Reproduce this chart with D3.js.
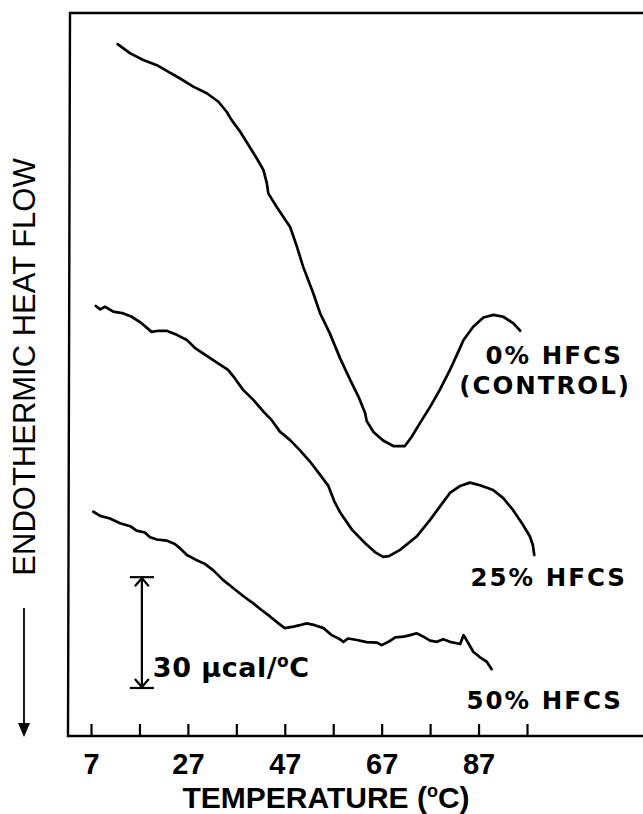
<!DOCTYPE html>
<html>
<head>
<meta charset="utf-8">
<script src="https://cdn.jsdelivr.net/npm/d3@7"></script>
<style>
  body { margin: 0; background: #fff; }
  svg { display: block; }
  .curve { fill: none; stroke: #000; stroke-width: 2.7; stroke-linejoin: round; stroke-linecap: round; }
  .frame { fill: none; stroke: #000; stroke-width: 2.4; }
  .axis text { font-family: "Liberation Sans", Arial, sans-serif; font-weight: bold; font-size: 29px; fill: #000; }
  .axis line { stroke: #000; stroke-width: 2.2; }
  .lbl { font-family: "DejaVu Sans", sans-serif; font-weight: bold; font-size: 24.5px; letter-spacing: 2px; fill: #000; }
</style>
</head>
<body>
<svg id="chart" width="643" height="814"></svg>
<script>
// temperature ticks (°C)
const tickTemps = [7, 17, 27, 37, 47, 57, 67, 77, 87, 97];
const labelTemps = [7, 27, 47, 67, 87];

// [temperature °C, heat flow µcal/°C (relative)]
const control = [
  [12.5,187.3],[15.1,184.8],[17.8,183.0],[20.6,181.6],[23.0,179.8],[25.4,178.0],[28.1,175.8],
  [30.9,174.0],[33.3,171.7],[35.0,169.0],[36.0,166.8],[37.8,163.6],[39.5,160.0],[41.2,156.4],
  [42.6,153.2],[43.3,149.6],[43.6,146.9],[45.3,143.3],[48.1,137.8],[49.5,132.5],[50.8,127.0],
  [52.9,119.8],[54.3,114.4],[56.3,109.0],[58.4,102.3],[60.5,96.4],[62.2,91.9],[63.6,87.4],
  [63.9,85.3],[65.3,82.3],[67.3,80.0],[69.4,78.5],[71.8,78.5],[73.2,81.0],[74.9,84.7],
  [77.0,89.1],[79.0,93.7],[81.1,99.1],[82.8,104.0],[83.9,107.2],[85.9,110.8],[88.0,113.3],
  [90.1,114.0],[92.1,113.5],[94.2,111.7],[95.6,109.7]
];
const hfcs25 = [
  [8.0,116.4],[8.9,115.5],[9.9,116.2],[11.6,114.9],[13.7,114.4],[15.4,113.5],[17.5,111.7],
  [19.5,109.4],[20.9,109.7],[22.6,109.7],[24.7,108.6],[26.8,107.2],[28.5,105.0],[30.9,102.9],
  [33.0,101.1],[35.3,99.1],[36.7,96.8],[38.4,93.7],[40.5,91.0],[42.6,87.8],[44.3,85.5],
  [46.0,82.4],[48.1,80.1],[50.1,77.4],[52.2,74.3],[54.3,70.7],[56.0,67.7],[57.2,63.6],
  [58.4,60.6],[60.9,55.8],[63.6,52.2],[65.6,49.8],[67.3,48.5],[68.5,48.7],[70.8,50.4],
  [74.2,54.0],[77.0,58.5],[79.0,62.1],[81.1,65.8],[83.2,67.7],[85.2,68.6],[87.3,67.9],
  [90.0,66.6],[92.1,64.4],[94.1,61.2],[96.2,57.1],[97.6,54.0],[98.2,51.7],[98.5,49.0]
];
const hfcs50 = [
  [7.5,60.7],[8.9,59.6],[10.9,58.9],[13.0,57.6],[15.1,56.8],[16.4,55.6],[18.1,55.1],
  [19.2,53.8],[20.6,53.2],[22.6,52.9],[24.3,52.0],[25.4,50.8],[26.8,49.0],[28.5,47.8],
  [30.5,46.6],[32.2,44.9],[34.3,42.2],[36.4,40.0],[38.4,37.9],[40.5,35.9],[42.2,34.1],
  [44.0,32.3],[45.7,30.5],[47.0,29.2],[48.8,29.6],[50.1,30.0],[51.5,30.5],[53.2,30.0],
  [55.0,29.2],[56.7,27.3],[58.1,26.4],[59.1,25.5],[60.1,26.4],[61.9,26.0],[63.9,25.4],
  [66.0,25.3],[67.0,24.6],[68.4,25.5],[69.8,26.7],[71.5,26.9],[72.9,27.3],[74.2,27.8],
  [75.6,26.9],[77.0,25.8],[78.4,25.5],[79.7,26.2],[81.1,25.5],[82.5,25.1],[83.2,24.9],
  [83.9,27.3],[84.9,25.1],[85.9,22.8],[87.3,21.3],[88.7,20.1],[89.7,18.1]
];
const seriesNames = ["0% HFCS", "25% HFCS", "50% HFCS"];
const scaleBar = [13, 43]; // 30 µcal/°C

const svg = d3.select('#chart');

const x = d3.scaleLinear().domain([7, 97]).range([91, 527]);
const y = d3.scaleLinear().domain([0, 196]).range([736, 12]);

// cadre
svg.append('path').attr('class','frame')
  .attr('d', 'M660,13 L70,13 L68,736 L660,736');

// axe des températures (ticks vers le haut)
const xAxis = d3.axisBottom(x)
  .tickValues(tickTemps)
  .tickSize(-12)
  .tickSizeOuter(0)
  .tickPadding(17)
  .tickFormat(d => labelTemps.includes(d) ? d : '');
svg.append('g').attr('class','axis')
  .attr('transform','translate(0,736)')
  .call(xAxis)
  .call(g => g.select('.domain').remove());

// courbes
const line = d3.line().x(d => x(d[0])).y(d => y(d[1]));
[control, hfcs25, hfcs50].forEach(s => {
  svg.append('path').attr('class','curve').datum(s).attr('d', line);
});

// étiquettes des courbes
svg.append('text').attr('class','lbl').attr('text-anchor','end')
  .attr('x', 623).attr('y', 364).text(seriesNames[0]);
svg.append('text').attr('class','lbl').attr('text-anchor','end')
  .attr('x', 631).attr('y', 394).text('(CONTROL)');
svg.append('text').attr('class','lbl').attr('text-anchor','end')
  .attr('x', 627).attr('y', 586).text(seriesNames[1]);
svg.append('text').attr('class','lbl').attr('text-anchor','end')
  .attr('x', 623).attr('y', 709).text(seriesNames[2]);

// barre d'échelle
const sx = x(17.5), sTop = y(scaleBar[1]), sBot = y(scaleBar[0]);
const bar = svg.append('g').attr('fill','none').attr('stroke','#000').attr('stroke-width',2.2);
bar.append('line').attr('x1',sx).attr('x2',sx).attr('y1',sTop).attr('y2',sBot);
bar.append('line').attr('x1',sx-12).attr('x2',sx+12).attr('y1',sTop).attr('y2',sTop);
bar.append('line').attr('x1',sx-12).attr('x2',sx+12).attr('y1',sBot).attr('y2',sBot);
bar.append('path').attr('d',`M${sx-7},${sTop+9} L${sx},${sTop+1} L${sx+7},${sTop+9}`);
bar.append('path').attr('d',`M${sx-7},${sBot-9} L${sx},${sBot-1} L${sx+7},${sBot-9}`);
const st = svg.append('text').attr('class','lbl')
  .style('font-size','27px').style('letter-spacing','0.5px')
  .attr('x', sx + 11).attr('y', 677);
st.append('tspan').text('30 µcal/');
st.append('tspan').attr('font-size','17px').attr('dy',-10).text('o');
st.append('tspan').attr('dy',10).text('C');

// titre axe x
const xt = svg.append('text')
  .attr('x', 326).attr('y', 808).attr('text-anchor','middle')
  .style('font-family','"Liberation Sans", Arial, sans-serif')
  .style('font-weight','bold').style('font-size','30px');
xt.append('tspan').text('TEMPERATURE (');
xt.append('tspan').attr('font-size','18px').attr('dy',-11).text('o');
xt.append('tspan').attr('dy',11).text('C)');

// titre axe y + flèche
svg.append('text')
  .attr('transform','translate(35,367) rotate(-90)')
  .attr('text-anchor','middle')
  .style('font-family','"Liberation Sans", Arial, sans-serif')
  .style('font-size','31px')
  .text('ENDOTHERMIC HEAT FLOW');
svg.append('line').attr('x1',24).attr('x2',24).attr('y1',608).attr('y2',726)
  .attr('stroke','#000').attr('stroke-width',1.8);
svg.append('path').attr('d','M18,723 L30,723 L24,737 Z').attr('fill','#000');
</script>
</body>
</html>
